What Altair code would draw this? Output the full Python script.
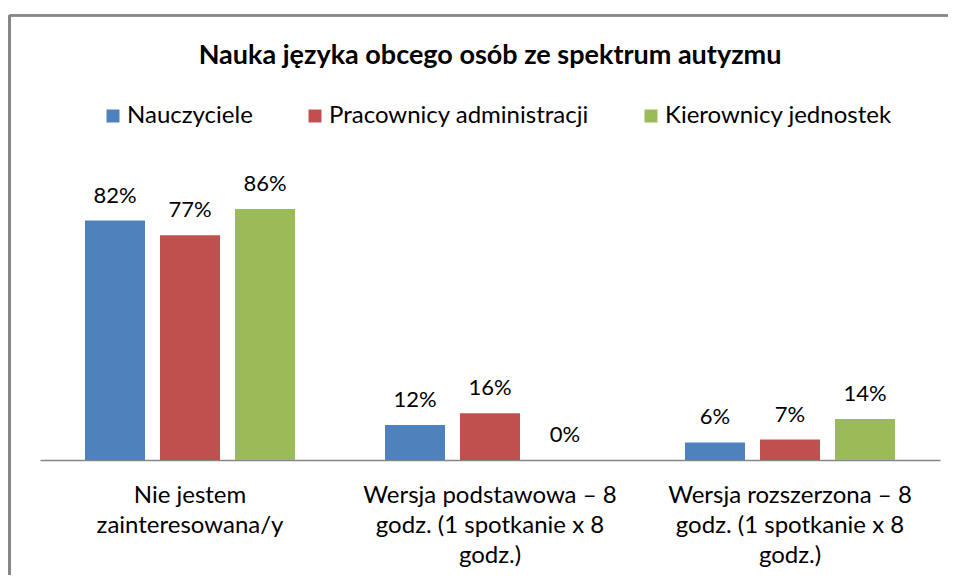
import json
import altair as alt
import pandas as pd

title = "Nauka języka obcego osób ze spektrum autyzmu"
categories = [
    "Nie jestem zainteresowana/y",
    "Wersja podstawowa – 8 godz. (1 spotkanie x 8 godz.)",
    "Wersja rozszerzona – 8 godz. (1 spotkanie x 8 godz.)",
]
category_lines = [
    ["Nie jestem", "zainteresowana/y"],
    ["Wersja podstawowa – 8", "godz. (1 spotkanie x 8", "godz.)"],
    ["Wersja rozszerzona – 8", "godz. (1 spotkanie x 8", "godz.)"],
]
series = ["Nauczyciele", "Pracownicy administracji", "Kierownicy jednostek"]
colors = ["#4F81BD", "#C0504D", "#9BBB59"]
nauczyciele = [82, 12, 6]
pracownicy = [77, 16, 7]
kierownicy = [86, 0, 14]

rows = []
for s, vals in zip(series, [nauczyciele, pracownicy, kierownicy]):
    for c, v in zip(categories, vals):
        rows.append({"category": c, "series": s, "value": v})
df = pd.DataFrame(rows)

FONT = "Lato"
label_expr = " : ".join(
    f"datum.value === {json.dumps(c, ensure_ascii=False)} ? {json.dumps(l, ensure_ascii=False)}"
    for c, l in zip(categories, category_lines)
) + " : datum.label"

base = alt.Chart(df).encode(
    x=alt.X(
        "category:N",
        sort=categories,
        title=None,
        scale=alt.Scale(paddingInner=0, paddingOuter=0),
        axis=alt.Axis(
            labelExpr=label_expr,
            labelAngle=0,
            labelFont=FONT,
            labelFontSize=24,
            labelColor="#000000",
            labelBaseline="top",
            labelLineHeight=30,
            labelPadding=23,
            ticks=False,
            domainColor="#868686",
            domainWidth=1.5,
            labelLimit=0,
        ),
    ),
    xOffset=alt.XOffset("series:N", sort=series, scale=alt.Scale(paddingInner=0.2, paddingOuter=0.6)),
    y=alt.Y("value:Q", scale=alt.Scale(domain=[0, 100]), axis=None),
)

bars = base.mark_bar().encode(
    color=alt.Color(
        "series:N",
        sort=series,
        scale=alt.Scale(domain=series, range=colors),
        legend=alt.Legend(
            title=None,
            orient="none",
            legendX=61,
            legendY=-64,
            direction="horizontal",
            symbolType="square",
            symbolSize=169,
            symbolStrokeWidth=0,
            labelFont=FONT,
            labelFontSize=24,
            labelColor="#000000",
            labelOffset=2,
            labelLimit=400,
            columnPadding=50,
        ),
    )
)

labels = base.mark_text(
    font=FONT, fontSize=22, baseline="bottom", dy=-13, color="#000000"
).transform_calculate(label="format(datum.value, 'd') + '%'").encode(text="label:N")

border_top = alt.Chart(df).mark_rule(color="#868686", strokeWidth=1.5).encode(
    x=alt.value(-30.5), x2=alt.value(908), y=alt.value(-152.5)
)
border_left = alt.Chart(df).mark_rule(color="#868686", strokeWidth=2).encode(
    x=alt.value(-30.5), y=alt.value(-152.5), y2=alt.value(407)
)

chart = (
    alt.layer(bars, labels, border_top, border_left)
    .properties(
        width=900,
        height=292,
        background="#FFFFFF",
        title=alt.TitleParams(
            title,
            font=FONT,
            fontSize=27,
            fontWeight="bold",
            color="#000000",
            anchor="middle",
            offset=0,
            dy=55,
        ),
        autosize=alt.AutoSizeParams(type="none"),
        padding={"left": 32, "top": 160, "right": 8, "bottom": 115},
    )
    .configure_view(stroke=None)
)

chart.save("out.html", embed_options={"renderer": "svg", "actions": False})
